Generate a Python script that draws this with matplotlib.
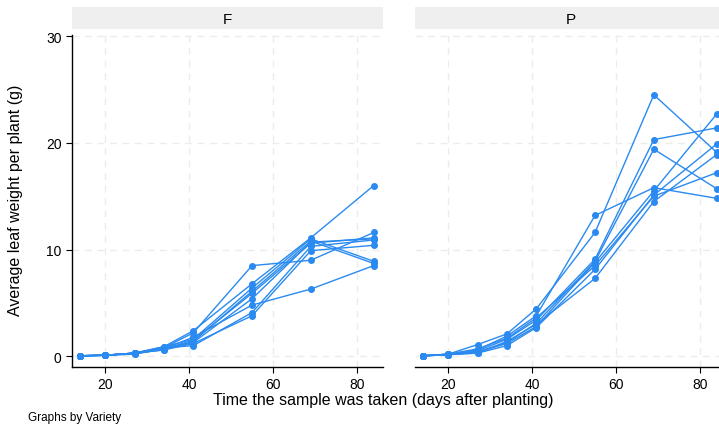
import matplotlib
matplotlib.use("Agg")
import matplotlib.pyplot as plt

plt.rcParams['font.family'] = ['Liberation Sans', 'DejaVu Sans']

# sampling times (days after planting)
days = [14, 20, 27, 34, 41, 55, 69, 84]
panels = ['F', 'P']

# average leaf weight per plant (g), one list per plot line
weights_F = [
    [0.05, 0.1, 0.3, 0.9, 2.4, 6.8, 11.1, 16.0],
    [0.05, 0.1, 0.3, 0.8, 2.2, 8.5, 9.0, 11.6],
    [0.05, 0.1, 0.25, 0.7, 1.8, 4.8, 6.3, 8.5],
    [0.05, 0.1, 0.3, 0.9, 1.6, 6.4, 11.0, 8.9],
    [0.05, 0.1, 0.3, 0.6, 1.4, 6.1, 10.8, 8.7],
    [0.05, 0.1, 0.2, 0.7, 1.5, 5.9, 10.6, 11.1],
    [0.05, 0.1, 0.3, 0.8, 1.0, 4.1, 10.3, 10.9],
    [0.05, 0.1, 0.3, 0.6, 1.2, 3.8, 9.9, 10.4],
    [0.05, 0.1, 0.3, 0.7, 1.3, 5.4, 10.7, 11.0],
]
weights_P = [
    [0.05, 0.2, 1.1, 2.1, 4.45, 11.6, 24.5, 19.1],
    [0.05, 0.2, 0.6, 1.9, 3.8, 13.2, 15.8, 14.8],
    [0.05, 0.15, 0.5, 1.6, 3.4, 9.1, 20.3, 21.4],
    [0.05, 0.15, 0.4, 1.3, 3.1, 8.9, 19.4, 15.7],
    [0.05, 0.15, 0.4, 1.2, 2.8, 8.8, 15.5, 22.7],
    [0.05, 0.2, 0.3, 1.0, 2.7, 8.15, 15.1, 19.9],
    [0.05, 0.15, 0.3, 1.4, 3.0, 7.3, 14.5, 18.9],
    [0.05, 0.2, 0.7, 1.7, 3.6, 8.5, 15.0, 17.2],
]

W, H = 719, 427
fig = plt.figure(figsize=(W / 100, H / 100), dpi=100)
blue = '#2a8af0'

lefts = [72, 415]
width = 311
top, bottom = 36, 368
for i, (name, data) in enumerate(zip(panels, [weights_F, weights_P])):
    ax = fig.add_axes([lefts[i] / W, 1 - bottom / H, width / W, (bottom - top) / H])
    for row in data:
        ax.plot(days, row, color=blue, lw=1, marker='o', ms=4, clip_on=False)
    ax.set_xlim(12.1, 86.2)
    ax.set_ylim(-1, 30.1)
    ax.set_xticks([20, 40, 60, 80])
    ax.set_yticks([0, 10, 20, 30])
    ax.grid(True, color='#ececec', ls=(0, (5, 4)), lw=1)
    ax.set_axisbelow(True)
    for s in ['top', 'right']:
        ax.spines[s].set_visible(False)
    ax.spines['bottom'].set_linewidth(1)
    ax.tick_params(labelsize=10, length=4, width=0.8, colors='black')
    if i == 0:
        ax.spines['left'].set_linewidth(1)
    else:
        ax.spines['left'].set_visible(False)
        ax.tick_params(axis='y', left=False, labelleft=False)
    # facet strip
    sax = fig.add_axes([lefts[i] / W, 1 - 30 / H, width / W, 22 / H])
    sax.set_facecolor('#efefef')
    sax.set_xticks([])
    sax.set_yticks([])
    for s in sax.spines.values():
        s.set_visible(False)
    sax.text(0.5, 0.45, name, ha='center', va='center', fontsize=11, transform=sax.transAxes)

fig.text(16 / W, 1 - 200 / H, 'Average leaf weight per plant (g)',
         ha='center', va='center', rotation=90, fontsize=11.5)
fig.text(383 / W, 1 - 401 / H, 'Time the sample was taken (days after planting)',
         ha='center', va='center', fontsize=11.5)
fig.text(28 / W, 1 - 418 / H, 'Graphs by Variety', ha='left', va='center', fontsize=8.5)

fig.savefig('out.png', dpi=100)
